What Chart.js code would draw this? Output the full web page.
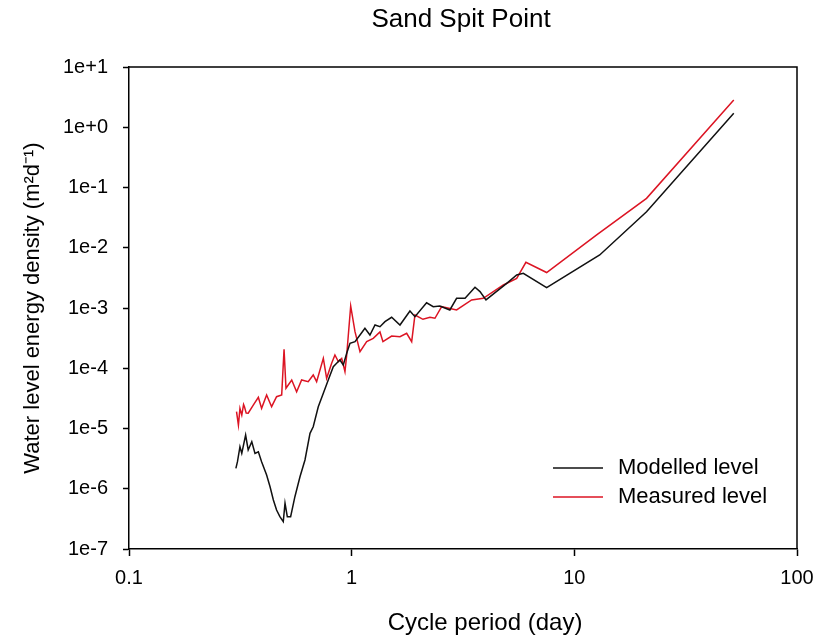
<!DOCTYPE html>
<html>
<head>
<meta charset="utf-8">
<title>Sand Spit Point</title>
<script src="https://cdn.jsdelivr.net/npm/chart.js@4"></script>
<style>
  body { margin: 0; background: #fff; }
</style>
</head>
<body>
<canvas id="spectrumChart" width="818" height="639"></canvas>
<script>
  var chartTitle = "Sand Spit Point";
  var xTitle = "Cycle period (day)";
  var yTitle = "Water level energy density (m²d⁻¹)";

  // axis ticks
  var xTicks = [0.1, 1, 10, 100];
  var xTickLabels = ["0.1", "1", "10", "100"];
  var yTicks = [1e-7, 1e-6, 1e-5, 1e-4, 1e-3, 1e-2, 1e-1, 1e0, 1e1];
  var yTickLabels = ["1e-7", "1e-6", "1e-5", "1e-4", "1e-3", "1e-2", "1e-1", "1e+0", "1e+1"];

  // Modelled level (black) - period in days, energy density m2/d
  var modelledPeriod = [0.302, 0.307, 0.315, 0.321, 0.334, 0.343, 0.356, 0.368, 0.381, 0.394,
    0.415, 0.430, 0.445, 0.460, 0.476, 0.493, 0.502, 0.514, 0.532, 0.556,
    0.586, 0.617, 0.650, 0.672, 0.708, 0.746, 0.785, 0.827, 0.856, 0.886,
    0.917, 0.950, 0.983, 1.035, 1.090, 1.147, 1.208, 1.273, 1.340, 1.411,
    1.512, 1.648, 1.827, 1.924, 2.17, 2.325, 2.49, 2.76, 2.96, 3.23,
    3.58, 3.77, 4.01, 4.97, 5.51, 5.90, 7.51, 13.0, 21.1, 52.0];
  var modelledLevel = [2.18e-6, 2.81e-6, 4.99e-6, 3.87e-6, 7.80e-6, 4.40e-6, 6.04e-6, 3.87e-6, 4.12e-6, 2.81e-6,
    1.69e-6, 1.08e-6, 6.50e-7, 4.44e-7, 3.44e-7, 2.84e-7, 5.74e-7, 3.44e-7, 3.44e-7, 7.38e-7,
    1.58e-6, 3.00e-6, 8.32e-6, 1.07e-5, 2.30e-5, 3.84e-5, 6.38e-5, 1.06e-4, 1.21e-4, 1.37e-4,
    1.13e-4, 1.77e-4, 2.59e-4, 2.76e-4, 3.56e-4, 4.60e-4, 3.56e-4, 5.22e-4, 4.90e-4, 5.93e-4,
    7.01e-4, 5.22e-4, 8.91e-4, 7.18e-4, 1.22e-3, 1.05e-3, 1.08e-3, 9.27e-4, 1.45e-3, 1.45e-3,
    2.21e-3, 1.87e-3, 1.36e-3, 2.57e-3, 3.53e-3, 3.77e-3, 2.17e-3, 7.58e-3, 0.0396, 1.71];

  // Measured level (red)
  var measuredPeriod = [0.304, 0.310, 0.315, 0.321, 0.327, 0.330, 0.336, 0.343, 0.3615, 0.381,
    0.394, 0.415, 0.437, 0.460, 0.485, 0.497, 0.507, 0.538, 0.566, 0.596,
    0.638, 0.672, 0.696, 0.746, 0.772, 0.813, 0.841, 0.871, 0.902, 0.933,
    0.950, 0.990, 1.035, 1.090, 1.168, 1.250, 1.340, 1.382, 1.512, 1.648,
    1.766, 1.860, 1.924, 2.090, 2.247, 2.366, 2.536, 2.96, 3.458, 3.90,
    4.80, 5.51, 6.06, 7.51, 12.6, 21.1, 52.0];
  var measuredLevel = [1.90e-5, 1.14e-5, 2.16e-5, 1.67e-5, 2.5e-5, 2.3e-5, 1.8e-5, 1.79e-5, 2.45e-5, 3.30e-5,
    2.16e-5, 3.60e-5, 2.30e-5, 3.37e-5, 3.60e-5, 2.06e-4, 4.65e-5, 6.38e-5, 4.08e-5, 6.38e-5,
    5.98e-5, 7.73e-5, 5.98e-5, 1.46e-4, 6.81e-5, 1.21e-4, 1.66e-4, 1.29e-4, 1.46e-4, 8.77e-5,
    1.66e-4, 1.08e-3, 4.04e-4, 1.88e-4, 2.76e-4, 3.14e-4, 4.0e-4, 2.76e-4, 3.43e-4, 3.34e-4,
    3.80e-4, 2.76e-4, 7.66e-4, 6.49e-4, 7.01e-4, 6.75e-4, 1.05e-3, 9.27e-4, 1.36e-3, 1.45e-3,
    2.41e-3, 3.11e-3, 5.74e-3, 3.88e-3, 0.0163, 0.066, 2.83];

  function toPoints(xs, ys) {
    return xs.map(function (x, i) { return { x: x, y: ys[i] }; });
  }

  var fontFamily = "'Liberation Sans', Arial, sans-serif";
  Chart.defaults.font.family = fontFamily;
  Chart.defaults.color = "#000";

  // box around plot, titles and legend
  var frameAndLegend = {
    id: "frameAndLegend",
    afterDraw: function (chart) {
      var ctx = chart.ctx;
      var a = chart.chartArea;
      ctx.save();
      ctx.strokeStyle = "#000";
      ctx.lineWidth = 1.5;
      ctx.beginPath();
      ctx.moveTo(a.left, a.top);
      ctx.lineTo(a.right, a.top);
      ctx.lineTo(a.right, a.bottom);
      ctx.stroke();

      ctx.fillStyle = "#000";
      ctx.textAlign = "center";
      ctx.textBaseline = "middle";
      ctx.font = "26px " + fontFamily;
      ctx.fillText(chartTitle, (a.left + a.right) / 2 - 2, 20);
      ctx.font = "24px " + fontFamily;
      ctx.fillText(xTitle, (a.left + a.right) / 2 + 22, 623);

      ctx.font = "22px " + fontFamily;
      ctx.textAlign = "left";
      chart.data.datasets.forEach(function (ds, i) {
        var y = a.top + 401 + i * 29;
        ctx.strokeStyle = ds.borderColor;
        ctx.lineWidth = 1.5;
        ctx.beginPath();
        ctx.moveTo(a.left + 424, y);
        ctx.lineTo(a.left + 474, y);
        ctx.stroke();
        ctx.fillStyle = "#000";
        ctx.fillText(ds.label, a.left + 489, y);
      });
      ctx.restore();
    }
  };

  var ctx = document.getElementById("spectrumChart").getContext("2d");
  var chart = new Chart(ctx, {
    type: "line",
    data: {
      datasets: [
        {
          label: "Modelled level",
          data: toPoints(modelledPeriod, modelledLevel),
          borderColor: "#111111",
          borderWidth: 1.5,
          pointRadius: 0,
          fill: false,
          tension: 0
        },
        {
          label: "Measured level",
          data: toPoints(measuredPeriod, measuredLevel),
          borderColor: "#dc1423",
          borderWidth: 1.5,
          pointRadius: 0,
          fill: false,
          tension: 0
        }
      ]
    },
    options: {
      responsive: false,
      animation: false,
      layout: { padding: { left: 0, right: 21, top: 67, bottom: 0 } },
      plugins: {
        legend: { display: false },
        tooltip: { enabled: false },
        title: { display: false }
      },
      scales: {
        x: {
          type: "logarithmic",
          min: 0.1,
          max: 100,
          afterBuildTicks: function (axis) {
            axis.ticks = xTicks.map(function (v) { return { value: v }; });
          },
          afterFit: function (axis) {
            axis.height = 90;
            axis.paddingLeft = 0;
            axis.paddingRight = 0;
          },
          ticks: {
            callback: function (v, i) { return xTickLabels[i]; },
            font: { size: 20 },
            color: "#000",
            padding: 10,
            maxRotation: 0,
            autoSkip: false
          },
          grid: { drawOnChartArea: false, tickLength: 7, tickColor: "#000", tickWidth: 1.5 },
          border: { color: "#000", width: 1.5 }
        },
        y: {
          type: "logarithmic",
          min: 1e-7,
          max: 10,
          afterBuildTicks: function (axis) {
            axis.ticks = yTicks.map(function (v) { return { value: v }; });
          },
          afterFit: function (axis) { axis.width = 129; },
          ticks: {
            callback: function (v, i) { return yTickLabels[i]; },
            font: { size: 20 },
            color: "#000",
            padding: 15,
            autoSkip: false
          },
          grid: { drawOnChartArea: false, tickLength: 6, tickColor: "#000", tickWidth: 1.5 },
          border: { color: "#000", width: 1.5 },
          title: {
            display: true,
            text: yTitle,
            font: { size: 22 },
            color: "#000",
            padding: { top: 20, bottom: 0 }
          }
        }
      }
    },
    plugins: [frameAndLegend]
  });
</script>
</body>
</html>
